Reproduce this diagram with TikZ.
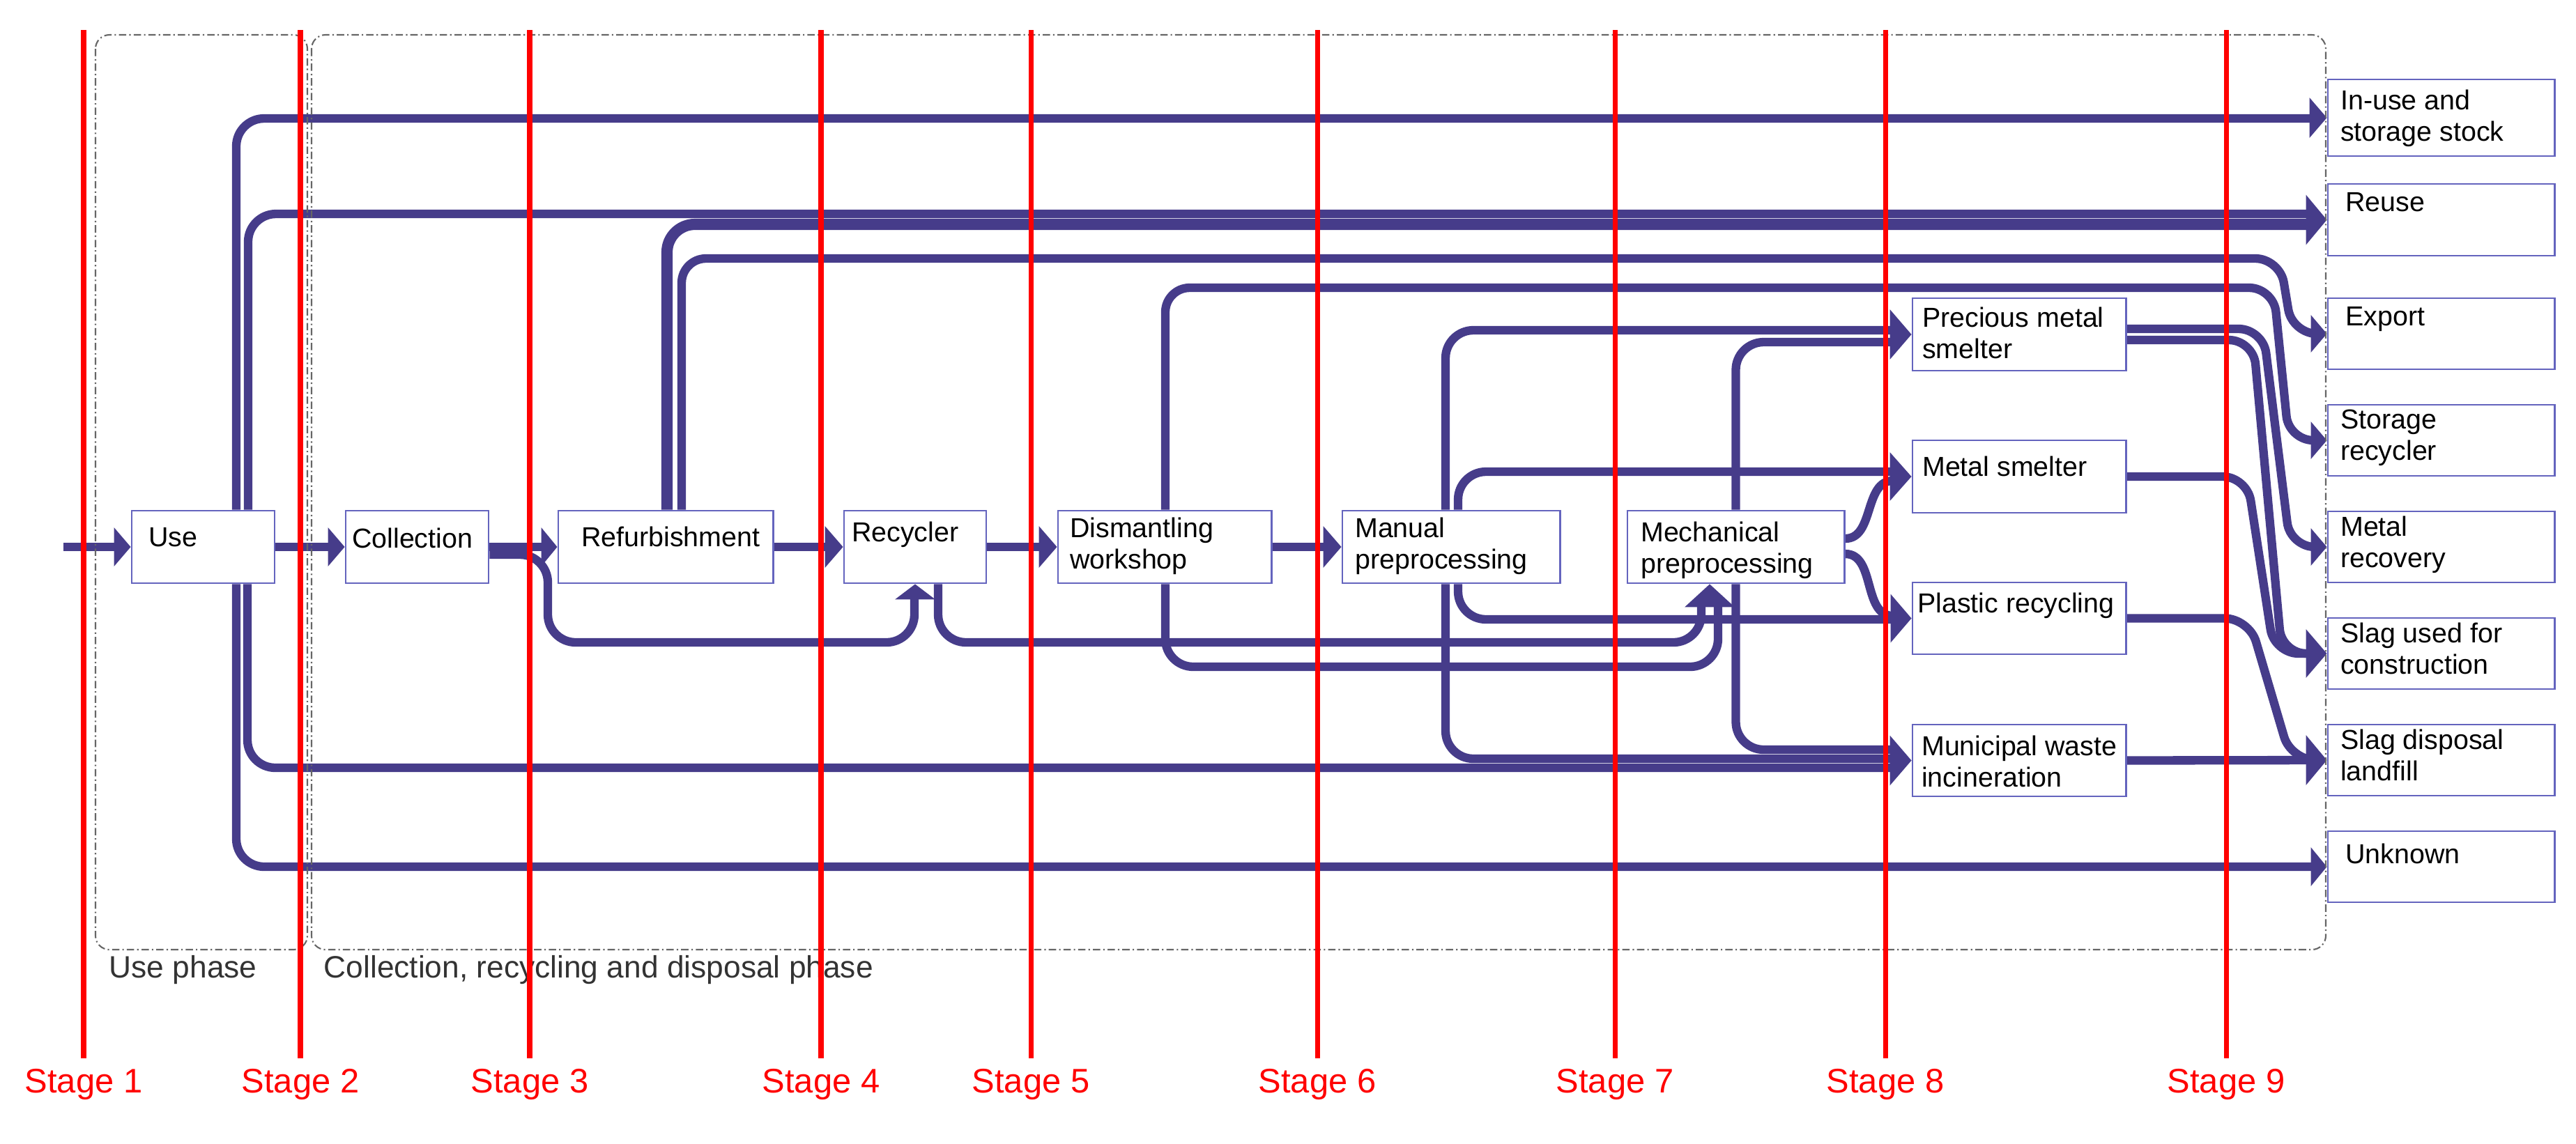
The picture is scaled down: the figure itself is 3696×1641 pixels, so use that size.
\documentclass[tikz,border=0pt]{standalone}
\usepackage{fontspec}
\setmainfont{Liberation Sans}
\usetikzlibrary{calc}
\definecolor{flowc}{RGB}{70,60,138}
\definecolor{boxc}{RGB}{100,100,190}
\pgfdeclarelayer{bg}
\pgfdeclarelayer{fg}
\pgfsetlayers{bg,main,fg}
\newcommand\tipR[3]{\fill[flowc] (#1) -- ++(-#2,-#3) -- ++(0,2*#3) -- cycle;}
\newcommand\tipU[3]{\fill[flowc] (#1) -- ++(-#3,#2) -- ++(2*#3,0) -- cycle;}
\begin{document}
\begin{tikzpicture}[x=0.01cm,y=-0.01cm,
  flow/.style={draw=flowc, line width=3.5pt, rounded corners=0.4cm},
  sflow/.style={draw=flowc, line width=3.5pt, rounded corners=0.35cm},
  box/.style={draw=boxc, line width=0.8pt, fill=white, inner sep=0pt, minimum height=1.04cm},
  txt/.style={anchor=north west, inner sep=0pt, align=left, font=\fontsize{11.2}{12.8}\selectfont, text=black},
  stagelbl/.style={anchor=base, inner sep=0pt, text=red, font=\fontsize{13.9}{16}\selectfont},
  phaselbl/.style={anchor=base west, inner sep=0pt, text=black!80, font=\fontsize{12.6}{15}\selectfont},
  redline/.style={draw=red, line width=2pt},
  phasebox/.style={draw=black!60, line width=0.6pt, rounded corners=0.2cm, dash pattern=on 3pt off 1.2pt on 0.6pt off 1.2pt}]
\useasboundingbox (0,0) rectangle (3696,1641);

% ---- boxes ----
\node[box, minimum width=2.05cm] (use) at (291.5,785) {};
\node[box, minimum width=2.05cm] (col) at (598.5,785) {};
\node[box, minimum width=3.08cm] (ref) at (955,785) {};
\node[box, minimum width=2.04cm] (rec) at (1313,785) {};
\node[box, minimum width=3.06cm] (dis) at (1671,785) {};
\node[box, minimum width=3.12cm] (man) at (2082,785) {};
\node[box, minimum width=3.11cm] (mech) at (2490.5,785) {};
\node[box, minimum width=3.06cm] (pms) at (2897,480) {};
\node[box, minimum width=3.06cm] (ms) at (2897,684) {};
\node[box, minimum width=3.06cm, minimum height=1.03cm] (pr) at (2897,887.5) {};
\node[box, minimum width=3.06cm, minimum height=1.03cm] (mwi) at (2897,1091.5) {};
\node[box, minimum width=3.25cm, minimum height=1.10cm] (inuse) at (3502.5,169) {};
\node[box, minimum width=3.25cm, minimum height=1.03cm] (reuse) at (3502.5,315.5) {};
\node[box, minimum width=3.25cm, minimum height=1.02cm] (export) at (3502.5,479) {};
\node[box, minimum width=3.25cm, minimum height=1.02cm] (storage) at (3502.5,632) {};
\node[box, minimum width=3.25cm, minimum height=1.02cm] (metalrec) at (3502.5,785) {};
\node[box, minimum width=3.25cm, minimum height=1.02cm] (slagc) at (3502.5,938) {};
\node[box, minimum width=3.25cm, minimum height=1.02cm] (slagd) at (3502.5,1091) {};
\node[box, minimum width=3.25cm, minimum height=1.02cm] (unknown) at (3502.5,1244) {};

% ---- box texts ----
\node[txt] (use-t) at ($(use.north west)+(25,25)$) {Use};
\node[txt] (col-t) at ($(col.north west)+(10,26)$) {Collection};
\node[txt] (ref-t) at ($(ref.north west)+(34,24)$) {Refurbishment};
\node[txt] (rec-t) at ($(rec.north west)+(12,17)$) {Recycler};
\node[txt] (dis-t) at ($(dis.north west)+(18,11)$) {Dismantling\\workshop};
\node[txt] (man-t) at ($(man.north west)+(19,11)$) {Manual\\preprocessing};
\node[txt] (mech-t) at ($(mech.north west)+(20,17)$) {Mechanical\\preprocessing};
\node[txt] (pms-t) at ($(pms.north west)+(15,14)$) {Precious metal\\smelter};
\node[txt] (ms-t) at ($(ms.north west)+(15,24)$) {Metal smelter};
\node[txt] (pr-t) at ($(pr.north west)+(8,16)$) {Plastic recycling};
\node[txt] (mwi-t) at ($(mwi.north west)+(14,17)$) {Municipal waste\\incineration};
\node[txt] (inuse-t) at ($(inuse.north west)+(19,16)$) {In-use and\\storage stock};
\node[txt] (reuse-t) at ($(reuse.north west)+(26,13)$) {Reuse};
\node[txt] (export-t) at ($(export.north west)+(26,13)$) {Export};
\node[txt] (storage-t) at ($(storage.north west)+(19,8)$) {Storage\\recycler};
\node[txt] (metalrec-t) at ($(metalrec.north west)+(19,8)$) {Metal\\recovery};
\node[txt] (slagc-t) at ($(slagc.north west)+(19,8)$) {Slag used for\\construction};
\node[txt] (slagd-t) at ($(slagd.north west)+(19,8)$) {Slag disposal\\landfill};
\node[txt] (unknown-t) at ($(unknown.north west)+(26,19)$) {Unknown};

\coordinate (src) at (91,785);

% ---- flows ----
\begin{pgfonlayer}{bg}
\draw[flow] (src) -- ($(use.west)+(-20,0)$);
\draw[flow] (use.east) -- ($(col.west)+(-20,0)$);
\draw[flow] (col.east) -- ($(ref.west)+(-19,0)$);
\draw[flow] ($(col.east)+(0,11)$) -| (786,922) -| ($(rec.south)+(-1,18)$);
\draw[flow] (ref.east) -- ($(rec.west)+(-22,0)$);
\draw[flow] (rec.east) -- ($(dis.west)+(-22,0)$);
\draw[flow] (dis.east) -- ($(man.west)+(-22,0)$);

\draw[flow] ($(use.north)+(47.5,0)$) |- ($(inuse.west)+(-20,1)$);
\draw[flow] ($(use.north)+(64.5,0)$) |- ($(reuse.west)+(-25,-8.5)$);
\draw[flow, line width=4.6pt] ($(ref.north)+(2,0)$) |- ($(reuse.west)+(-25,6.5)$);
\draw[sflow] ($(ref.north)+(23,0)$) |- (3271,371) -- (3289,479) -- ($(export.west)+(-12,0)$);
\draw[sflow] ($(dis.north)+(1,0)$) |- (3262,413) -- (3284,632) -- ($(storage.west)+(-12,0)$);
\draw[flow] ($(dis.south)+(1,0)$) |- (2465,957) -- (2465,868);
\draw[flow] ($(rec.south)+(33,0)$) |- (2441,922) -- (2441,868);

\draw[flow] ($(man.north)+(-8,0)$) |- (2716,474);
\draw[flow] ($(man.north)+(10,0)$) |- (2716,677);
\draw[flow] ($(man.south)+(10,0)$) |- (2716,889);
\draw[flow] ($(man.south)+(-8,0)$) |- (2716,1089);
\draw[flow] (mech.north) |- (2716,491);
\draw[flow] ($(mech.east)+(0,-12)$) to[out=0,in=180] (2716,690);
\draw[flow] ($(mech.east)+(0,10)$) to[out=0,in=180] (2716,884);
\draw[flow] (mech.south) |- (2716,1076);
\draw[flow] ($(use.south)+(63.5,0)$) |- (2716,1102);
\draw[flow] ($(use.south)+(47.5,0)$) |- ($(unknown.west)+(-18,0)$);

\draw[sflow] ($(pms.east)+(0,-8)$) -- (3247,472) -- (3286,785) -- ($(metalrec.west)+(-12,0)$);
\draw[sflow] ($(pms.east)+(0,8)$) -- (3233,488) -- (3274,938) -- ($(slagc.west)+(-18,0)$);
\draw[sflow] (ms.east) -- (3224,684) -- (3263,938) -- ($(slagc.west)+(-18,0)$);
\draw[sflow] (pr.east) -- (3227,887.5) -- (3287,1091) -- ($(slagd.west)+(-16,0)$);
\draw[flow] (mwi.east) -- ($(slagd.west)+(-16,0)$);

% arrow heads
\tipR{use.west}{24}{28}
\tipR{col.west}{24}{28}
\tipR{ref.west}{23}{28}
\tipU{rec.south}{22}{29}
\tipR{rec.west}{26}{30}
\tipR{dis.west}{26}{30}
\tipR{man.west}{26}{30}
\tipR{inuse.west}{25}{29}
\tipR{reuse.west}{30}{36}
\tipR{export.west}{23}{27}
\tipR{storage.west}{23}{27}
\tipR{metalrec.west}{23}{27}
\tipR{slagc.west}{30}{35}
\tipR{slagd.west}{30}{36}
\tipR{unknown.west}{23}{28}
\tipR{pms.west}{31}{36}
\tipR{ms.west}{31}{35}
\tipR{pr.west}{30}{35}
\tipR{mwi.west}{31}{36}
\tipU{$(mech.south)+(-37.5,0)$}{33}{36}
\end{pgfonlayer}

% ---- phases and stages ----
\begin{pgfonlayer}{fg}
\draw[phasebox] (137,50) rectangle (441,1363);
\draw[phasebox] (447,50) rectangle (3337,1363);
\node[phaselbl] (uselbl) at (156,1403) {Use phase};
\node[phaselbl] (crdlbl) at (464,1403) {Collection, recycling and disposal phase};
\foreach \x/\n in {120/1,431/2,760/3,1178/4,1479/5,1890/6,2317/7,2705/8,3194/9}{
  \draw[redline] (\x,43) -- (\x,1519);
  \node[stagelbl] (stage\n) at (\x,1568) {Stage \n};
}
\end{pgfonlayer}
\end{tikzpicture}
\end{document}
